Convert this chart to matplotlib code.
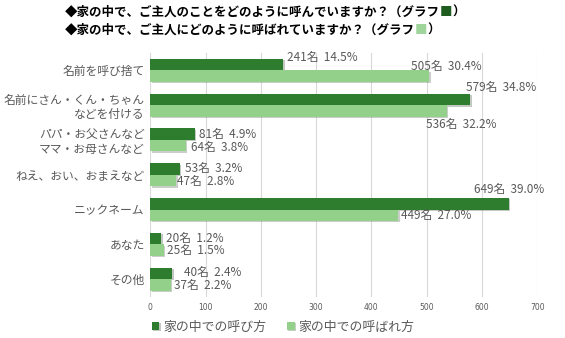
import matplotlib
matplotlib.use("Agg")
import matplotlib.pyplot as plt
import matplotlib.patheffects as pe
import numpy as np

plt.rcParams['font.family'] = ['Noto Sans CJK JP', 'DejaVu Sans']

categories = ["名前を呼び捨て", "名前にさん・くん・ちゃん\nなどを付ける", "パパ・お父さんなど\nママ・お母さんなど",
              "ねえ、おい、おまえなど", "ニックネーム", "あなた", "その他"]
call_counts = [241, 579, 81, 53, 649, 20, 40]
call_pcts = [14.5, 34.8, 4.9, 3.2, 39.0, 1.2, 2.4]
called_counts = [505, 536, 64, 47, 449, 25, 37]
called_pcts = [30.4, 32.2, 3.8, 2.8, 27.0, 1.5, 2.2]
series_names = ["家の中での呼び方", "家の中での呼ばれ方"]
xticks = [0, 100, 200, 300, 400, 500, 600, 700]

# label offsets in pixels (style)
dark_offsets = [(3.5, 7.5), (-4, 12), (4, 0), (5.5, 0.5), (-35, 14.5), (4.4, 0.5), (12, 0.5)]
light_offsets = [(-18, 9.5), (-21, -14), (5, -1.5), (0.5, -1.2), (2.2, -0.5), (2.7, -0.8), (3.6, -1)]

DARK = '#2e7d2e'
LIGHT = '#93d08a'
GRAY = '#595959'

fig = plt.figure(figsize=(5.65, 3.38), dpi=100)
ax = fig.add_axes([150.2 / 565, 1 - 296.5 / 338, (537.3 - 150.2) / 565, (296.5 - 53) / 338])

y = np.arange(len(categories))
h = 0.33
shadow = [pe.SimplePatchShadow(offset=(1, -1), alpha=0.25), pe.Normal()]
b1 = ax.barh(y - h / 2, call_counts, height=h, color=DARK, label=series_names[0], zorder=3)
b2 = ax.barh(y + h / 2, called_counts, height=h, color=LIGHT, label=series_names[1], zorder=3)
for p in list(b1) + list(b2):
    p.set_path_effects(shadow)

for i in range(len(categories)):
    ax.annotate(f"{call_counts[i]}名  {call_pcts[i]:.1f}%", xy=(call_counts[i], y[i] - h / 2),
                xytext=dark_offsets[i], textcoords='offset pixels', ha='left', va='center',
                fontsize=8.5, color=GRAY, zorder=4)
    ax.annotate(f"{called_counts[i]}名  {called_pcts[i]:.1f}%", xy=(called_counts[i], y[i] + h / 2),
                xytext=light_offsets[i], textcoords='offset pixels', ha='left', va='center',
                fontsize=8.5, color=GRAY, zorder=4)

ax.set_xlim(0, 700)
ax.set_ylim(len(categories) - 0.5, -0.5)
ax.set_xticks(xticks)
ax.set_xticklabels([str(t) for t in xticks], fontsize=5.5, color=GRAY, family='DejaVu Sans')
ax.set_yticks(y)
ax.set_yticklabels(categories, fontsize=8.5, color=GRAY, linespacing=1.15)
ax.tick_params(axis='both', length=0)
ax.tick_params(axis='x', pad=5)
ax.tick_params(axis='y', pad=4)
for s in ax.spines.values():
    s.set_visible(False)
ax.grid(axis='x', color='#d9d9d9', linewidth=0.8, zorder=0)
ax.set_axisbelow(True)

# title lines
t1 = fig.text(65 / 565, 1 - 12 / 338, "◆家の中で、ご主人のことをどのように呼んでいますか？（グラフ",
              fontsize=9, fontweight='bold', color='black', va='center', ha='left')
t2 = fig.text(65 / 565, 1 - 30 / 338, "◆家の中で、ご主人にどのように呼ばれていますか？（グラフ",
              fontsize=9, fontweight='bold', color='black', va='center', ha='left')
fig.canvas.draw()
r = fig.canvas.get_renderer()
inv = fig.transFigure.inverted()
for t, col in [(t1, '#1f5c1f'), (t2, '#9fd59a')]:
    bb = t.get_window_extent(r)
    x1, yc = inv.transform((bb.x1, (bb.y0 + bb.y1) / 2))
    sq = fig.text(x1, yc, "■", fontsize=9, color=col, va='center', ha='left')
    bb2 = sq.get_window_extent(r)
    x2, _ = inv.transform((bb2.x1, 0))
    fig.text(x2, yc, "）", fontsize=9, fontweight='bold', color='black', va='center', ha='left')

fig.legend(handles=[b1, b2], labels=series_names, loc='center', bbox_to_anchor=(283 / 565, 1 - 327 / 338),
           ncol=2, frameon=False, fontsize=9.3, labelcolor=GRAY, handlelength=0.6, handleheight=0.6,
           handletextpad=0.3, columnspacing=1.6)

fig.savefig("out.png", dpi=100)
